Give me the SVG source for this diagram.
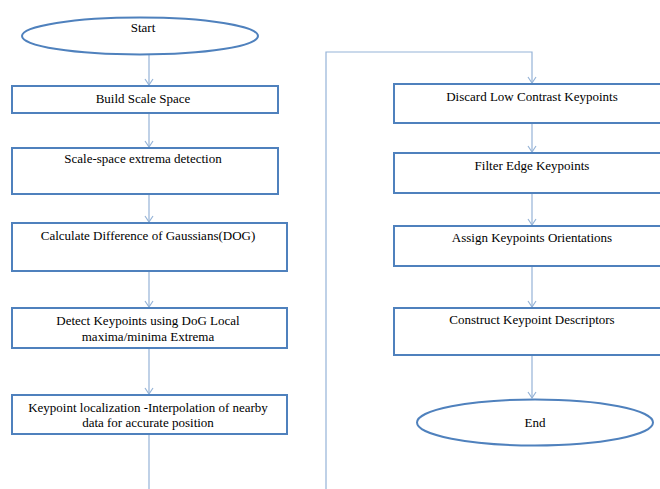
<svg xmlns="http://www.w3.org/2000/svg" width="660" height="489" viewBox="0 0 660 489">
<style>
.box{fill:#fff;stroke:#4f81bd;stroke-width:2}
.t{font-family:'Liberation Serif','DejaVu Serif','Times New Roman',serif;font-size:13px;fill:#000;text-anchor:middle}
.c{fill:none;stroke:#95b3d7;stroke-width:1.2}
</style>
<defs>
<marker id="ah" markerWidth="10" markerHeight="10" refX="8" refY="5" orient="auto" markerUnits="userSpaceOnUse">
<path d="M2,1 L8,5 L2,9" fill="none" stroke="#95b3d7" stroke-width="1.2"/>
</marker>
</defs>
<rect width="660" height="489" fill="#fff"/>
<g id="connectors">
<line class="c" x1="149" y1="55" x2="149" y2="85" marker-end="url(#ah)"/>
<line class="c" x1="149" y1="113" x2="149" y2="147" marker-end="url(#ah)"/>
<line class="c" x1="149" y1="194" x2="149" y2="222" marker-end="url(#ah)"/>
<line class="c" x1="149" y1="271" x2="149" y2="307" marker-end="url(#ah)"/>
<line class="c" x1="149" y1="348" x2="149" y2="394" marker-end="url(#ah)"/>
<line class="c" x1="149" y1="434" x2="149" y2="489"/>
<polyline class="c" points="326,489 326,52 532,52 532,83" marker-end="url(#ah)"/>
<line class="c" x1="532" y1="123" x2="532" y2="152" marker-end="url(#ah)"/>
<line class="c" x1="532" y1="193" x2="532" y2="225" marker-end="url(#ah)"/>
<line class="c" x1="532" y1="266" x2="532" y2="307" marker-end="url(#ah)"/>
<line class="c" x1="532" y1="355" x2="532" y2="398" marker-end="url(#ah)"/>
</g>
<g id="start"><ellipse class="box" cx="140" cy="36" rx="118" ry="18.5"/><text class="t" x="143" y="32" font-family="Liberation Serif, serif">Start</text></g>
<g id="build"><rect class="box" x="12" y="86" width="266" height="27"/><text class="t" x="143" y="103">Build Scale Space</text></g>
<g id="extrema"><rect class="box" x="12" y="148" width="266" height="46"/><text class="t" x="143" y="163">Scale-space extrema detection</text></g>
<g id="dog"><rect class="box" x="12" y="223" width="275" height="48"/><text class="t" x="148" y="240">Calculate Difference of Gaussians(DOG)</text></g>
<g id="detect"><rect class="box" x="12" y="308" width="275" height="40"/><text class="t" x="148" y="325">Detect Keypoints using DoG Local</text><text class="t" x="148" y="341">maxima/minima Extrema</text></g>
<g id="localize"><rect class="box" x="12" y="395" width="275" height="39"/><text class="t" x="148" y="412">Keypoint localization -Interpolation of nearby</text><text class="t" x="148" y="427">data for accurate position</text></g>
<g id="discard"><rect class="box" x="394" y="84" width="276" height="39"/><text class="t" x="532" y="101">Discard Low Contrast Keypoints</text></g>
<g id="filter"><rect class="box" x="394" y="153" width="276" height="40"/><text class="t" x="532" y="170">Filter Edge Keypoints</text></g>
<g id="assign"><rect class="box" x="394" y="226" width="276" height="40"/><text class="t" x="532" y="242">Assign Keypoints Orientations</text></g>
<g id="construct"><rect class="box" x="394" y="308" width="276" height="47"/><text class="t" x="532" y="324">Construct Keypoint Descriptors</text></g>
<g id="end"><ellipse class="box" cx="535" cy="422.5" rx="118" ry="23"/><text class="t" x="535" y="427">End</text></g>
</svg>
